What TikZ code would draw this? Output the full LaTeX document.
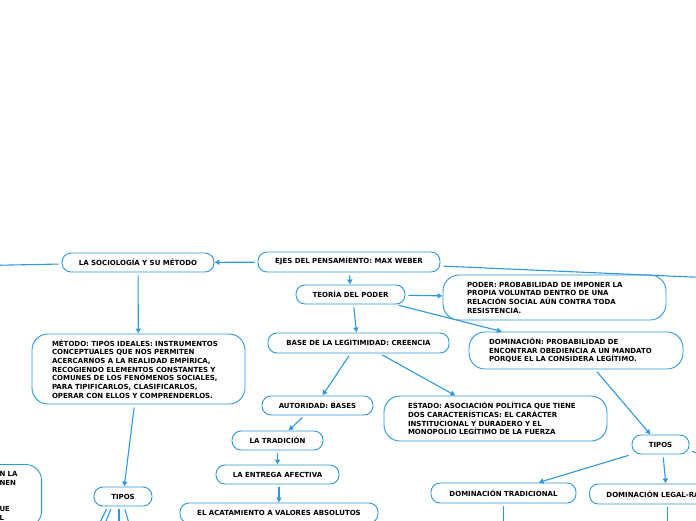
\documentclass[tikz,border=0pt]{standalone}
\usepackage{fontspec}
\setmainfont{DejaVu Sans}
\usetikzlibrary{arrows.meta}
\definecolor{mapblue}{RGB}{45,152,222}
\tikzset{topic/.style = {shape = rectangle, rounded corners = 9pt, draw = mapblue, fill = white, line width = 0.9pt, font = \fontsize{7}{8.7}\selectfont\bfseries, align = center, minimum height = 19pt, inner sep = 4pt}}
\tikzset{note/.style = {topic, rounded corners = 16pt, align = left}}
\tikzset{link/.style = {draw = mapblue, line width = 1.1pt, -{Latex[length = 5pt, width = 6pt]}, shorten <= 3pt}}

\begin{document}
\begin{tikzpicture}[x = 1pt, y = -1pt]
	\useasboundingbox (0, 0) rectangle (696, 520);

	\node[topic, minimum width = 182pt, minimum height = 20pt] (ejes) at (349, 262) {EJES DEL PENSAMIENTO: MAX WEBER};
	\node[topic, minimum width = 152pt] (socio) at (138, 262.5) {LA SOCIOLOGÍA Y SU MÉTODO};
	\node[topic, minimum width = 109pt] (teoria) at (350.5, 294.5) {TEORÍA DEL PODER};
	\node[note, text width = 175pt, inner xsep = 24pt, minimum height = 45pt] (poder) at (554.5, 297.5) {PODER: PROBABILIDAD DE IMPONER LA\\PROPIA VOLUNTAD DENTRO DE UNA\\RELACIÓN SOCIAL AÚN CONTRA TODA\\RESISTENCIA.};
	\node[note, text width = 174pt, inner xsep = 20pt, minimum height = 37pt] (dom) at (576, 350.5) {DOMINACIÓN: PROBABILIDAD DE\\ENCONTRAR OBEDIENCIA A UN MANDATO\\PORQUE EL LA CONSIDERA LEGÍTIMO.};
	\node[topic, minimum width = 181pt, minimum height = 20pt] (base) at (358.5, 343) {BASE DE LA LEGITIMIDAD: CREENCIA};
	\node[note, text width = 173pt, inner xsep = 20pt, minimum height = 70pt] (metodo) at (138.5, 369) {MÉTODO: TIPOS IDEALES: INSTRUMENTOS\\CONCEPTUALES QUE NOS PERMITEN\\ACERCARNOS A LA REALIDAD EMPÍRICA,\\RECOGIENDO ELEMENTOS CONSTANTES Y\\COMUNES DE LOS FENÓMENOS SOCIALES,\\PARA TIPIFICARLOS, CLASIFICARLOS,\\OPERAR CON ELLOS Y COMPRENDERLOS.};
	\node[topic, minimum width = 111pt] (autoridad) at (317.5, 405.5) {AUTORIDAD: BASES};
	\node[note, text width = 175pt, inner xsep = 24pt, minimum height = 45pt] (estado) at (495.5, 418.5) {ESTADO: ASOCIACIÓN POLÍTICA QUE TIENE\\DOS CARACTERÍSTICAS: EL CARÁCTER\\INSTITUCIONAL Y DURADERO Y EL\\MONOPOLIO LEGÍTIMO DE LA FUERZA};
	\node[topic, minimum width = 91pt] (tradicion) at (277.5, 440.5) {LA TRADICIÓN};
	\node[topic, minimum width = 57pt] (tiposR) at (660.5, 444.5) {TIPOS};
	\node[topic, minimum width = 123pt] (entrega) at (277.5, 474.5) {LA ENTREGA AFECTIVA};
	\node[topic, minimum width = 58pt] (tiposL) at (123, 496.5) {TIPOS};
	\node[topic, minimum width = 145pt, minimum height = 20pt] (domtrad) at (503.5, 493) {DOMINACIÓN TRADICIONAL};
	\node[topic, anchor = west, inner xsep = 17pt, minimum height = 20pt] (domlegal) at (589, 494) {DOMINACIÓN LEGAL-RACIONAL};
	\node[topic, minimum width = 198pt, minimum height = 20pt] (acatamiento) at (279, 513) {EL ACATAMIENTO A VALORES ABSOLUTOS};
	\node[note, anchor = north east, text width = 22pt, inner xsep = 20pt, inner ysep = 7pt] (lado) at (42, 464) {N LA\\NEN\\~\\~\\UE\\L};

	\coordinate (izq) at (-40, 266);
	\coordinate (der) at (760, 280);
	\coordinate (derB) at (760, 474);
	\coordinate (fondo) at (0, 560);
	\coordinate (bajoT) at (domtrad.south |- fondo);
	\coordinate (bajoL) at (domlegal.south |- fondo);
	\coordinate (h1) at (81, 560);
	\coordinate (h2) at (90, 560);
	\coordinate (h3) at (119, 560);
	\coordinate (h4) at (140, 560);

	\draw[link] (ejes) -- (socio);
	\draw[link] (ejes) -- (teoria);
	\draw[link] ([yshift = -4pt]ejes.east) -- (der);
	\draw[link] (socio) -- (izq);
	\draw[link] (socio) -- (metodo);
	\draw[link] ([xshift = -4pt]metodo.south) -- (tiposL);
	\draw[link] (teoria) -- (poder);
	\draw[link] ([xshift = 45pt]teoria.south) -- ([xshift = -74pt]dom.north);
	\draw[link] ([xshift = 3pt]teoria.south) -- ([xshift = -2pt]base.north);
	\draw[link] ([xshift = -8pt]base.south) -- ([xshift = 5pt]autoridad.north);
	\draw[link] ([xshift = 21pt]base.south) -- ([xshift = -40pt]estado.north);
	\draw[link] ([xshift = -13pt]autoridad.south) -- ([xshift = 11pt]tradicion.north);
	\draw[link] (tradicion) -- (entrega);
	\draw[link] ([xshift = 1.5pt]entrega.south) -- (acatamiento.north);
	\draw[link] ([xshift = 19pt]dom.south) -- ([xshift = -10pt]tiposR.north);
	\draw[link] (tiposR.south west) -- ([xshift = 35pt]domtrad.north);
	\draw[link] ([xshift = 2.5pt]tiposR.south) -- ([xshift = -2pt]domlegal.north);
	\draw[link] ([yshift = -6pt]tiposR.east) -- (derB);
	\draw[link] (domtrad.south) -- (bajoT);
	\draw[link] (domlegal.south) -- (bajoL);
	\draw[link] ([xshift = -15pt]tiposL.south) -- (h1);
	\draw[link] ([xshift = -11pt]tiposL.south) -- (h2);
	\draw[link] ([xshift = -4pt]tiposL.south) -- (h3);
	\draw[link] ([xshift = 1pt]tiposL.south) -- (h4);
\end{tikzpicture}
\end{document}
